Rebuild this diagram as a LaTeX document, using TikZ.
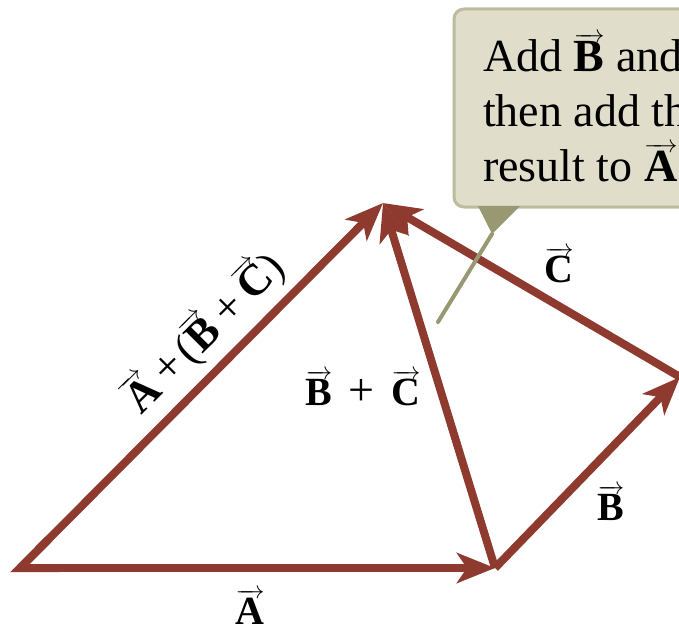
\documentclass[tikz,border=0pt]{standalone}
\usepackage{fontspec}
\setmainfont{Liberation Serif}
\usetikzlibrary{arrows.meta,calc}
\definecolor{vecred}{RGB}{142,58,46}
\definecolor{boxfill}{RGB}{224,222,202}
\definecolor{boxedge}{RGB}{190,188,158}
\definecolor{pointer}{RGB}{152,152,114}
\newcommand{\vv}[1]{\ensuremath{\overrightarrow{\textbf{#1}}}}
\newcommand{\bigplus}{{\fontsize{46}{46}\selectfont +}}
\newcommand{\gapplus}{\hspace{9pt}\bigplus\hspace{9pt}}
\begin{document}
\begin{tikzpicture}[x=1pt,y=-1pt,
  vec/.style={draw=vecred, line width=8pt, line join=miter,
    -{Stealth[length=38pt,width=30pt,inset=10pt]}},
  lbl/.style={font=\fontsize{40}{44}\selectfont, inner sep=0pt, anchor=base},
  note/.style={font=\fontsize{46}{54}\selectfont, inner sep=0pt, anchor=base west}]
\useasboundingbox (0,0) rectangle (679,631);
\clip (0,0) rectangle (679,631);
% vertices
\coordinate (O) at (20,568);
\coordinate (P) at (495,568);
\coordinate (Q) at (680,377);
\coordinate (R) at (383,203);
% vectors
\draw[vec] (O) -- (P);
\draw[vec] (P) -- (Q);
\draw[vec] (Q) -- (R);
\draw[vec] (P) -- (R);
\draw[vec] (O) -- (R);
\draw[draw=vecred, line width=8pt, line join=miter] ($(O)!40pt!(R)$) -- (O) -- ($(O)!40pt!(P)$);
% labels
\node[lbl] (la) at (250,624) {\vv{A}};
\node[lbl] (lb) at (611,520) {\vv{B}};
\node[lbl] (lc) at (559,282) {\vv{C}};
\node[lbl] (lbc) at (363,405) {\vv{B} \,\bigplus\, \vv{C}};
\node[lbl, font=\fontsize{44}{46}\selectfont, anchor=center, rotate=45] (lsum) at (204,333) {\vv{A}\gapplus\hspace{-4pt}(\vv{B}\gapplus\vv{C})};
% callout
\draw[draw=boxedge, fill=boxfill, line width=3pt, rounded corners=10pt] (454,9) rectangle (760,207);
\coordinate (t1) at (478,206);
\coordinate (t2) at (520,206);
\coordinate (t3) at (492,234);
\coordinate (tend) at (438,322);
\fill[pointer] (t1) -- (t2) -- (t3) -- cycle;
\draw[pointer, line width=4pt, line cap=round] (t3) -- (tend);
\node[note] (n1) at (483,72) {Add \vv{B} and \vv{C},};
\node[note] (n2) at (483,127) {then add the};
\node[note] (n3) at (483,182) {result to \vv{A}};
\end{tikzpicture}
\end{document}
